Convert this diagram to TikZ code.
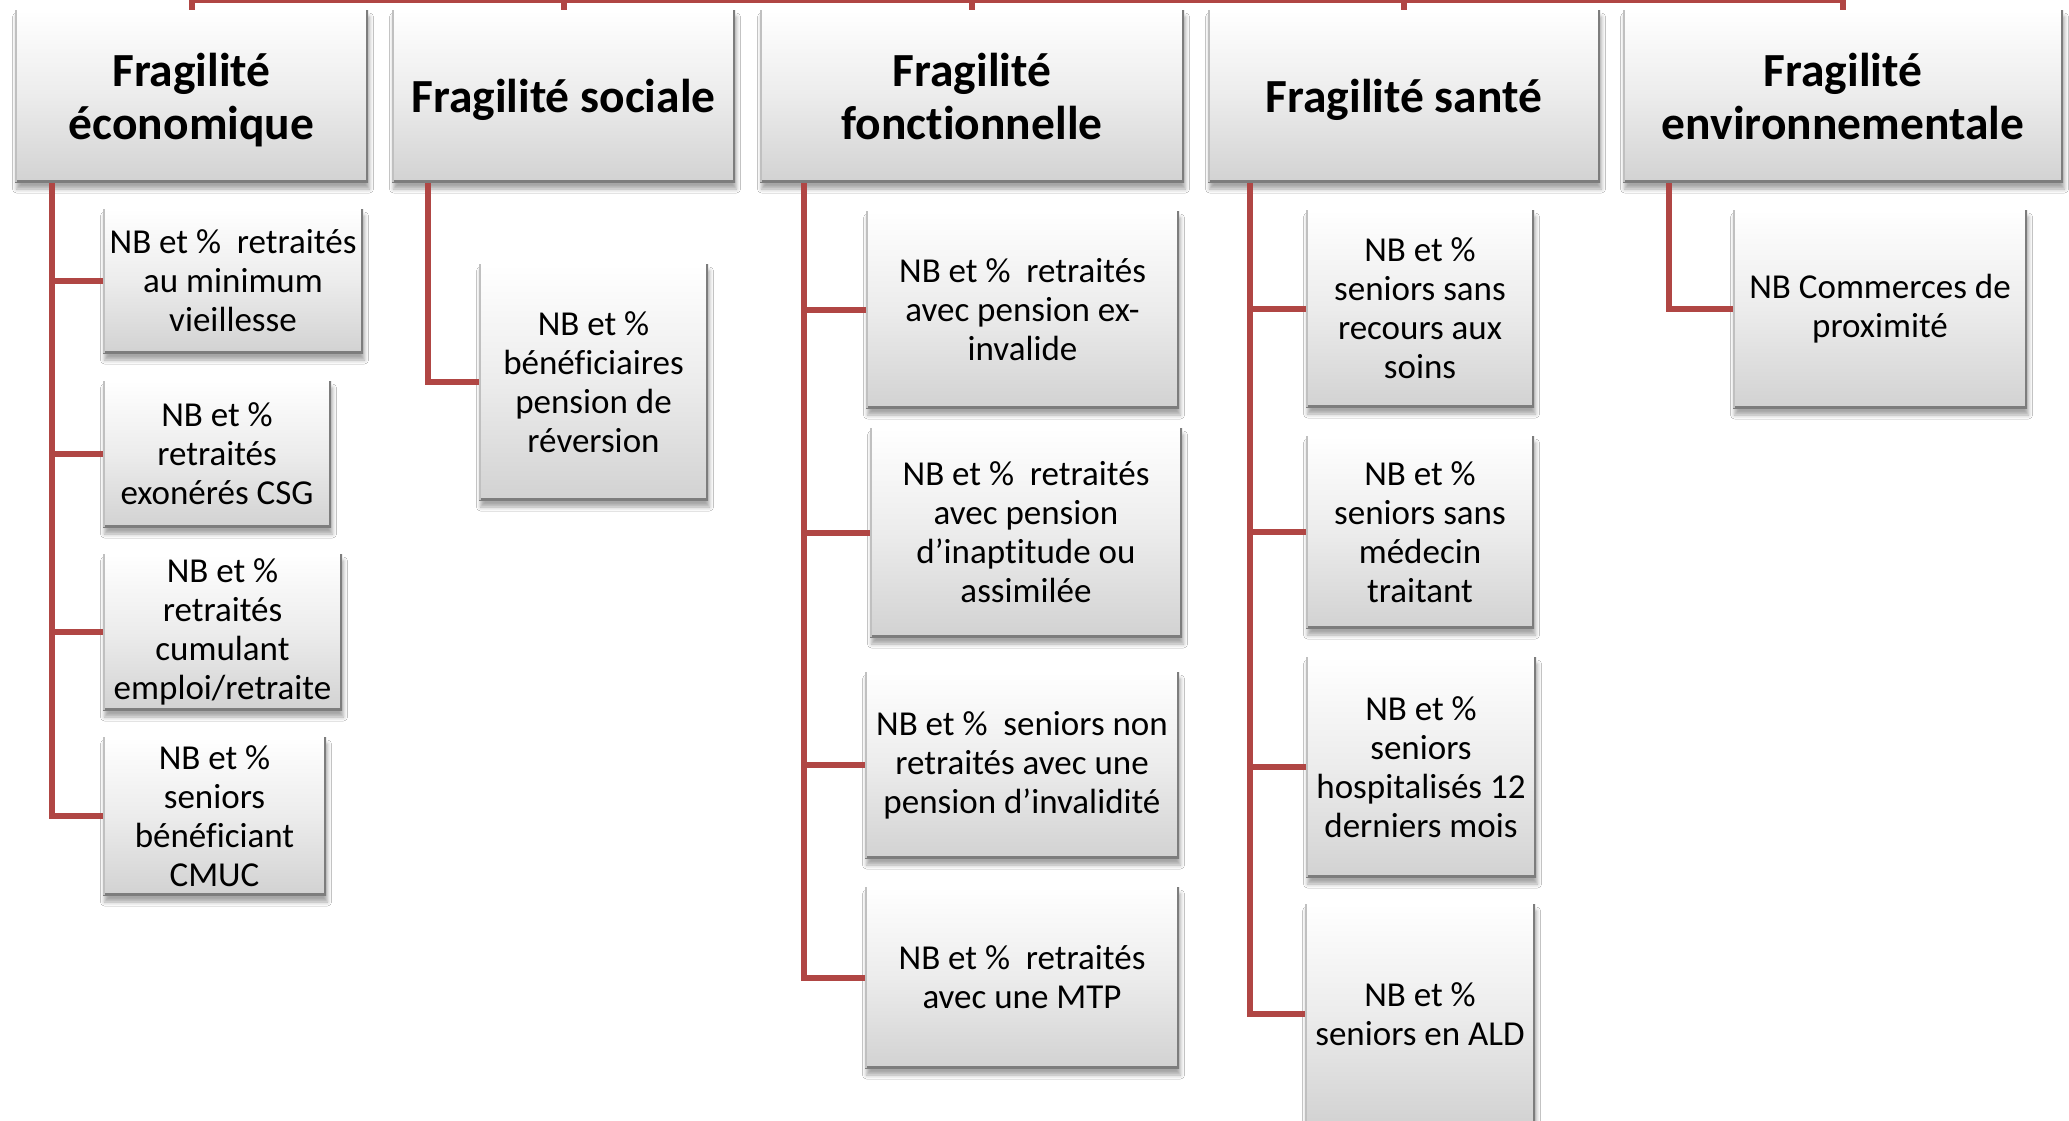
\documentclass[tikz,border=0pt]{standalone}
\usepackage{fontspec}
\setmainfont{Carlito}[Ligatures=NoCommon]
\usetikzlibrary{shadows.blur}
\definecolor{conncol}{RGB}{176,70,68}
\definecolor{edgedark}{RGB}{125,125,125}
\definecolor{edgelight}{RGB}{192,192,192}
\definecolor{boxbot}{RGB}{210,210,210}
\definecolor{boxmid}{RGB}{236,236,236}
\newcommand\mkbox[7]{%
  \node[#1, minimum width={#5-#3}, minimum height={#6-#4}] (#2) at ({(#3+#5)/2},{(#4+#6)/2}) {#7};}
\tikzset{
  boxbase/.style={rectangle, inner sep=0pt, outer sep=0pt, align=center, text=black,
    top color=white, bottom color=boxbot, middle color=boxmid, draw=none,
    blur shadow={shadow xshift=1.5pt, shadow yshift=-7pt, shadow blur radius=4pt, shadow opacity=35},
    path picture={
      \draw[line width=5pt, edgedark] (path picture bounding box.north east) -- (path picture bounding box.south east) -- (path picture bounding box.south west);
      \draw[line width=4pt, edgelight] (path picture bounding box.south west) -- (path picture bounding box.north west);
    }},
  headbox/.style={boxbase, font=\fontsize{47.5}{53}\selectfont\bfseries, text depth=0pt},
  childbox/.style={boxbase, font=\fontsize{35}{39}\selectfont},
  conn/.style={draw=conncol, line width=6pt}
}
\begin{document}
\begin{tikzpicture}[x=1pt, y=-1pt]
\useasboundingbox (0,0) rectangle (2069,1121);
\fill[white] (0,0) rectangle (2069,1121);
% headers
\mkbox{headbox}{h1}{15}{10}{368}{182}{Fragilité\\économique}
\mkbox{headbox}{h2}{392}{10}{735}{182}{Fragilité sociale}
\mkbox{headbox}{h3}{760}{10}{1184}{182}{Fragilité\\fonctionnelle}
\mkbox{headbox}{h4}{1208}{10}{1600}{182}{Fragilité santé}
\mkbox{headbox}{h5}{1623}{10}{2063}{182}{Fragilité\\environnementale}
% economique
\mkbox{childbox}{c11}{103}{209}{363}{353}{NB et \%\ \ retraités\\au minimum\\vieillesse}
\mkbox{childbox}{c12}{103}{381}{331}{527}{NB et \%\\retraités\\exonérés CSG}
\mkbox{childbox}{c13}{103}{554}{342}{710}{NB et \%\\retraités\\cumulant\\emploi/retraite}
\mkbox{childbox}{c14}{103}{737}{326}{895}{NB et \%\\seniors\\bénéficiant\\CMUC}
% sociale
\mkbox{childbox}{c21}{479}{264}{708}{500}{NB et \%\\bénéficiaires\\pension de\\réversion}
% fonctionnelle
\mkbox{childbox}{c31}{866}{211}{1179}{408}{NB et \%\ \ retraités\\avec pension ex-\\invalide}
\mkbox{childbox}{c32}{870}{428}{1182}{637}{NB et \%\ \ retraités\\avec pension\\d’inaptitude ou\\assimilée}
\mkbox{childbox}{c33}{865}{672}{1179}{858}{NB et \%\ \ seniors non\\retraités avec une\\pension d’invalidité}
\mkbox{childbox}{c34}{865}{887}{1179}{1068}{NB et \%\ \ retraités\\avec une MTP}
% sante
\mkbox{childbox}{c41}{1306}{210}{1534}{407}{NB et \%\\seniors sans\\recours aux\\soins}
\mkbox{childbox}{c42}{1306}{436}{1534}{628}{NB et \%\\seniors sans\\médecin\\traitant}
\mkbox{childbox}{c43}{1306}{657}{1536}{877}{NB et \%\\seniors\\hospitalisés 12\\derniers mois}
\mkbox{childbox}{c44}{1305}{904}{1535}{1124}{NB et \%\\seniors en ALD}
% environnementale
\mkbox{childbox}{c51}{1733}{210}{2027}{408}{NB Commerces de\\proximité}
% connectors
\coordinate (top) at (0,0.5);
\coordinate (t1) at (h1.north |- top);
\coordinate (t5) at (h5.north |- top);
\draw[conn] (t1) -- (t5);
\foreach \i in {1,...,5}{\draw[conn] (h\i.north |- top) -- (h\i.north);}
\coordinate (b1) at (52,183);
\coordinate (b2) at (428,183);
\coordinate (b3) at (804,183);
\coordinate (b4) at (1250,183);
\coordinate (b5) at (1669,183);
\foreach \c in {c11,c12,c13,c14}{\draw[conn] (b1) |- (\c.west);}
\draw[conn] (b2) |- (c21.west);
\foreach \c in {c31,c32,c33,c34}{\draw[conn] (b3) |- (\c.west);}
\foreach \c in {c41,c42,c43,c44}{\draw[conn] (b4) |- (\c.west);}
\draw[conn] (b5) |- (c51.west);
\end{tikzpicture}
\end{document}
